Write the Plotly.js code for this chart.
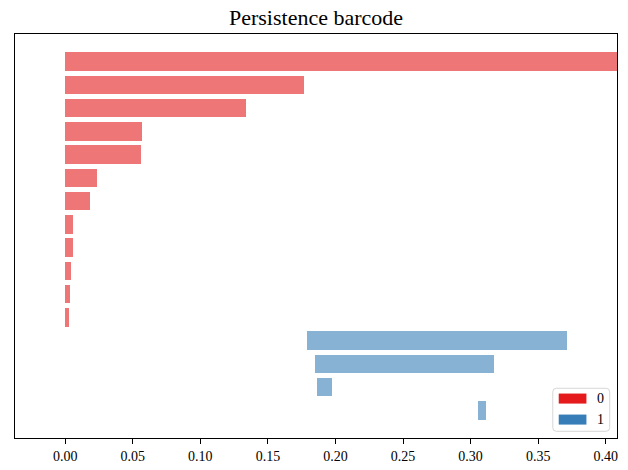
<!DOCTYPE html>
<html>
<head>
<meta charset="utf-8">
<script src="https://cdn.plot.ly/plotly-3.0.1.min.js"></script>
<style>html,body{margin:0;padding:0;background:#fff;}#chart{width:628px;height:470px;}</style>
</head>
<body>
<div id="chart"></div>
<script>
// Persistence intervals (birth, death); Infinity = essential class
var births = [0, 0, 0, 0, 0, 0, 0, 0, 0, 0, 0, 0, 0.1789, 0.1848, 0.1863, 0.3054];
var deaths = [Infinity, 0.1767, 0.1338, 0.0569, 0.0562, 0.0237, 0.0185, 0.0059, 0.0059, 0.0044, 0.0037, 0.0030, 0.3712, 0.3172, 0.1974, 0.3113];
var dims   = [0, 0, 0, 0, 0, 0, 0, 0, 0, 0, 0, 0, 1, 1, 1, 1];
var dimLabels = ['0', '1'];
var dimColors = ['#e41a1c', '#377eb8'];
var xTickVals = [0, 0.05, 0.10, 0.15, 0.20, 0.25, 0.30, 0.35, 0.40];

var finite = deaths.filter(function(d){return isFinite(d);});
var maxDeath = Math.max.apply(null, finite);
var minBirth = Math.min.apply(null, births);
var delta = 0.1 * (maxDeath - minBirth);
var infinity = maxDeath + delta;
var axisStart = minBirth - delta;

var traces = [];
dimLabels.forEach(function(lab, k){
  var ys = [], xs = [], bs = [];
  for (var i = 0; i < births.length; i++) {
    if (dims[i] !== k) continue;
    var d = isFinite(deaths[i]) ? deaths[i] : infinity;
    ys.push(i); bs.push(births[i]); xs.push(d - births[i]);
  }
  traces.push({
    type: 'bar', orientation: 'h', y: ys, x: xs, base: bs, width: 0.8,
    marker: {color: dimColors[k], opacity: 0.6, line: {width: 0}},
    showlegend: false, hoverinfo: 'skip', cliponaxis: true
  });
});

var n = births.length;
var pad = 0.05 * (n - 1 + 0.8);
var font = 'Liberation Serif, Times New Roman, serif';

// manual legend (matplotlib-style patches)
var lgX0 = 0.8933, lgX1 = 0.9879, lgY0 = 0.0166, lgY1 = 0.1231;
var r = 0.006, ry = 0.009;
var boxPath = 'M' + (lgX0 + r) + ',' + lgY0 + ' L' + (lgX1 - r) + ',' + lgY0 +
  ' Q' + lgX1 + ',' + lgY0 + ' ' + lgX1 + ',' + (lgY0 + ry) +
  ' L' + lgX1 + ',' + (lgY1 - ry) + ' Q' + lgX1 + ',' + lgY1 + ' ' + (lgX1 - r) + ',' + lgY1 +
  ' L' + (lgX0 + r) + ',' + lgY1 + ' Q' + lgX0 + ',' + lgY1 + ' ' + lgX0 + ',' + (lgY1 - ry) +
  ' L' + lgX0 + ',' + (lgY0 + ry) + ' Q' + lgX0 + ',' + lgY0 + ' ' + (lgX0 + r) + ',' + lgY0 + ' Z';
var shapes = [{type: 'path', xref: 'paper', yref: 'paper', path: boxPath,
  fillcolor: 'rgba(255,255,255,0.8)', line: {color: 'rgba(204,204,204,0.8)', width: 1}}];
var annotations = [];
var patchY = [[0.0852, 0.1100], [0.0332, 0.0580]];
var textY = [0.0976, 0.0456];
dimLabels.forEach(function(lab, k){
  shapes.push({type: 'rect', xref: 'paper', yref: 'paper', x0: 0.9032, x1: 0.9492,
    y0: patchY[k][0], y1: patchY[k][1], fillcolor: dimColors[k], line: {width: 0}});
  annotations.push({xref: 'paper', yref: 'paper', x: 0.9729, y: textY[k], text: lab,
    showarrow: false, xanchor: 'center', yanchor: 'middle', font: {family: font, size: 14, color: '#000'}});
});

var layout = {
  width: 628, height: 470,
  margin: {l: 15, r: 11, t: 34, b: 32, pad: 0},
  paper_bgcolor: '#fff', plot_bgcolor: '#fff',
  font: {family: font, size: 14, color: '#000'},
  title: {text: 'Persistence barcode', font: {family: font, size: 22, color: '#000'},
    x: 0.5, xanchor: 'center', xref: 'paper', y: 1 - 17 / 470, yref: 'container', yanchor: 'middle'},
  xaxis: {range: [axisStart, infinity], tickvals: xTickVals, tickformat: '.2f',
    ticks: 'outside', ticklen: 5, tickwidth: 1, tickcolor: '#000',
    showline: true, mirror: true, linecolor: '#000', linewidth: 1,
    showgrid: false, zeroline: false, tickfont: {family: font, size: 14}},
  yaxis: {range: [n - 1 + 0.4 + pad, -0.4 - pad], showticklabels: false, ticks: '',
    showline: true, mirror: true, linecolor: '#000', linewidth: 1,
    showgrid: false, zeroline: false},
  bargap: 0, barmode: 'overlay',
  shapes: shapes, annotations: annotations, showlegend: false
};

Plotly.newPlot('chart', traces, layout, {displayModeBar: false, staticPlot: true});
</script>
</body>
</html>
